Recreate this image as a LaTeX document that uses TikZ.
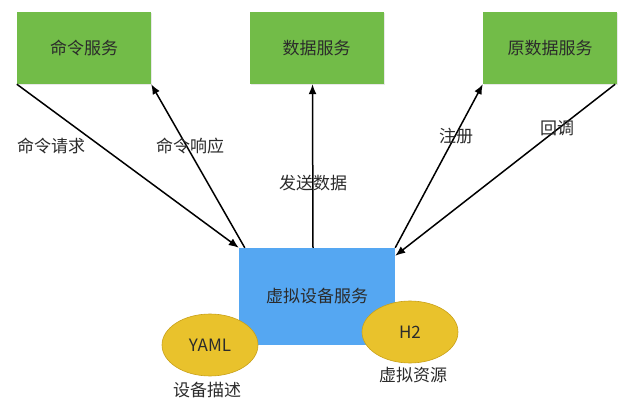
\documentclass[tikz,border=0pt]{standalone}
\usepackage{fontspec}
\setmainfont{Noto Sans CJK SC}
\definecolor{boxGreen}{HTML}{72BC48}
\definecolor{boxBlue}{HTML}{55A7F2}
\definecolor{ovalGold}{HTML}{E9C22C}
\definecolor{ovalEdge}{HTML}{C9A11A}
\definecolor{textDark}{HTML}{2B2B2B}
\usetikzlibrary{arrows.meta, shapes.geometric, shadows}

\tikzset{
  svcbox/.style={fill=boxGreen, minimum width=134pt, minimum height=72pt, inner sep=0pt,
                 text=textDark, font=\fontsize{17}{20}\selectfont,
                 drop shadow={opacity=0.18, shadow xshift=1pt, shadow yshift=-1.5pt}},
  virtbox/.style={fill=boxBlue, minimum width=156pt, minimum height=97pt, inner sep=0pt,
                  text=textDark, font=\fontsize{17}{20}\selectfont},
  gold/.style={ellipse, fill=ovalGold, draw=ovalEdge, line width=0.6pt, inner sep=0pt,
               minimum width=96pt, minimum height=62pt, text=textDark,
               font=\fontsize{17}{20}\selectfont},
  tag/.style={text=textDark, font=\fontsize{17}{20}\selectfont, inner sep=0pt},
  flow/.style={-{Latex[length=10pt,width=8pt]}, line width=1.5pt, black}
}

\begin{document}
\begin{tikzpicture}[x=1pt, y=-1pt]
  \useasboundingbox[fill=white] (0,0) rectangle (635,406);

  % services on top
  \node[svcbox] (cmd)  at (84,48)  {命令服务};
  \node[svcbox] (data) at (316.5,48) {数据服务};
  \node[svcbox] (meta) at (550,48) {原数据服务};

  % virtual device service
  \node[virtbox] (virt) at (317,296.5) {虚拟设备服务};

  % connectors
  \draw[flow] (cmd.south west) -- (virt.north west);
  \draw[flow] ([xshift=6pt]virt.north west) -- (cmd.south east);
  \draw[flow] ([xshift=-4pt]virt.north) -- ([xshift=-4pt]data.south);
  \draw[flow] (virt.north east) -- (meta.south west);
  \draw[flow] ([xshift=-2pt]meta.south east) -- ([yshift=-8pt]virt.north east);

  \node[tag] (lreq)  at (51,146)  {命令请求};
  \node[tag] (lresp) at (190,146) {命令响应};
  \node[tag] (lsend) at (313,183) {发送数据};
  \node[tag] (lreg)  at (456,136) {注册};
  \node[tag] (lcb)   at (557,128) {回调};

  % storage ovals
  \node[gold] (yaml) at (210,345) {YAML};
  \node[gold] (htwo) at (410,332) {H2};
  \node[tag] (ldesc) at (207,390) {设备描述};
  \node[tag] (lres)  at (413,375) {虚拟资源};
\end{tikzpicture}
\end{document}
